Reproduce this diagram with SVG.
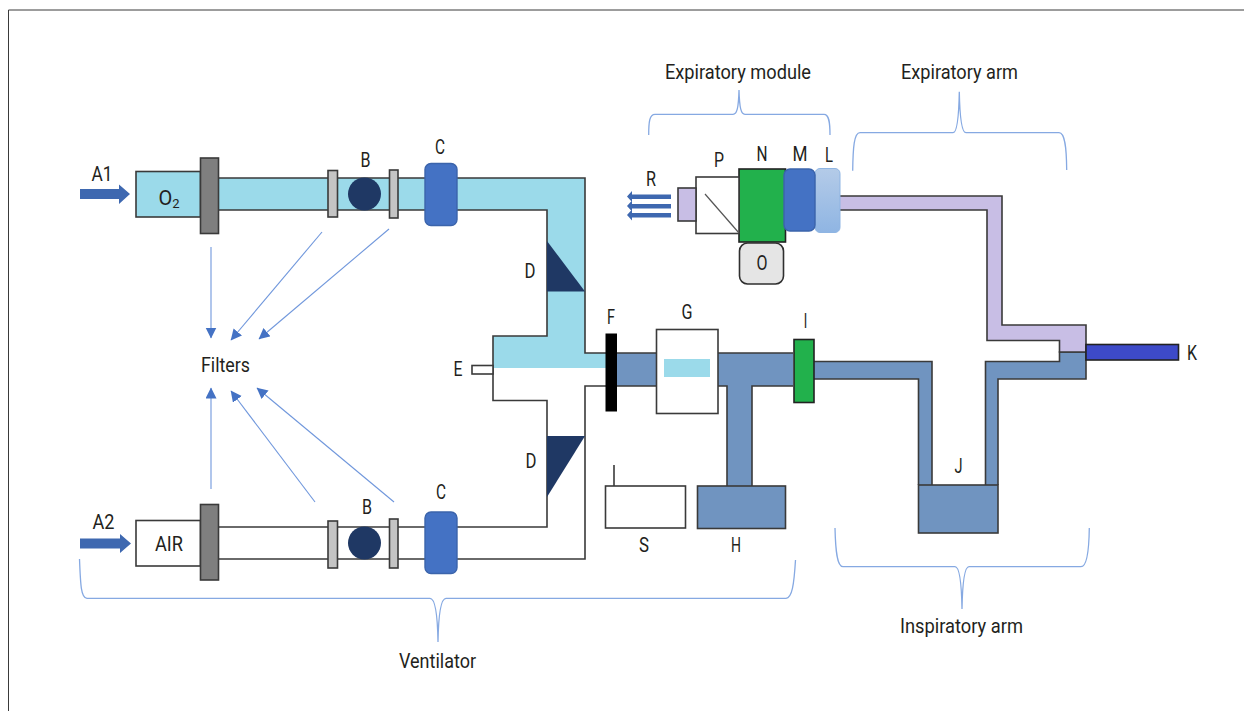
<svg xmlns="http://www.w3.org/2000/svg" width="1244" height="711" viewBox="0 0 1244 711">
<style>
text{font-family:"Roboto","Liberation Sans",sans-serif;font-size:20px;fill:#231f20;text-anchor:middle}
.w{font-size:20.500px}
.l{fill:none;stroke:#3a3a3a;stroke-width:1.600}
.b{stroke:#3a3a3a;stroke-width:1.600}
.cy{fill:#9bdaea}.bl{fill:#7094c0}.li{fill:#c8bee5}.wh{fill:#fff}.gr{fill:#7f7f7f}.lg{fill:#c4c4c4}.dk{fill:#1f3864}
.c{fill:#4472c4;stroke:#3b64ab;stroke-width:1.400}
.t{fill:none;stroke:#7097dc;stroke-width:1.100;marker-end:url(#ah)}
.br{fill:none;stroke:#86a9e2;stroke-width:1.300}
.fat{fill:#3e68b0}
</style>
<defs>
<marker id="ah" markerUnits="userSpaceOnUse" markerWidth="12" markerHeight="12" refX="10.500" refY="5.500" orient="auto"><path d="M0 0L11 5.500L0 11Z" fill="#4472c4"/></marker>
<linearGradient id="lg" x1="0" y1="0" x2="0" y2="1"><stop offset="0" stop-color="#b4cbe8"/><stop offset="1" stop-color="#8fb5e3"/></linearGradient>
</defs>
<path d="M1244 10H8.500V711" fill="none" stroke="#3a3a3a" stroke-width="1"/>

<g id="connectors">
<path class="t" d="M211 247V338"/>
<path class="t" d="M322 232L231 340"/>
<path class="t" d="M389 229L259 339"/>
<path class="t" d="M211 489V388"/>
<path class="t" d="M315 502L231 391"/>
<path class="t" d="M394 502L257 388"/>
<path class="br" d="M79.500 559C80.500 585 81 598 87 598.300H430C435 598.300 437.500 612 438 642C438.500 612 441 598.300 446 598.300H786C792 598 794 585 795.500 560"/>
<path class="br" d="M648.700 135C648.700 122 649.500 114.300 655 114.300H733C737 114.300 738.500 108 739 90C739.500 108 741 114.300 745 114.300H824C829 114.300 830 122 830 135"/>
<path class="br" d="M852.700 170.700C853 148 854 132.700 860 132.700H953C957 132.700 958.800 118 959.300 91.700C959.800 118 961.500 132.700 966 132.700H1059C1065 132.700 1066.500 148 1066.700 170"/>
<path class="br" d="M835 528C835.500 550 837 566.700 843 566.700H955C959 566.700 961.500 582 962 609C962.500 582 965 566.700 969 566.700H1081C1087 566.700 1089 550 1089.300 528"/>
</g>

<g id="inspiratory-path">
<path class="cy" d="M218 178H585V353H606V368H493V336H547V210H218Z"/>
<path class="l" d="M218 178H585V353H606M218 210H547V336H493V400.500H547V527H218M218 559H585V386H606"/>
<path class="bl" d="M617 353H793V386H752V486H727V386H617Z"/>
<path class="l" d="M617 353H793M617 386H727V486M752 486V386H793"/>
<path class="bl" d="M814 361.500H932V485H985.500V361.500H1059.500V352H1086V379H998V485H918.500V379H814Z"/>
<path class="l" d="M814 361.500H932V485M985.500 485V361.500H1059.500V352H1086V379H998V485M918.500 485V379H814"/>
</g>
<g id="expiratory-path">
<path class="li" d="M840 196H1002V325H1086V352H1059.500V340.500H987V210H840Z"/>
<path class="l" d="M840 196H1002V325H1086V352H1059.500V340.500H987V210H840"/>
</g>

<g id="A1"><path class="fat" d="M80 189H119V184.500L130 194L119 204V199H80Z"/><text x="102" y="181" textLength="21" lengthAdjust="spacingAndGlyphs">A1</text></g>
<g id="A2"><path class="fat" d="M80 538.500H120V534L131 543.500L120 553V548.500H80Z"/><text x="103.500" y="529" textLength="22" lengthAdjust="spacingAndGlyphs">A2</text></g>
<g id="O2"><rect class="cy b" x="136" y="171.500" width="64.500" height="45.500"/><text x="169" y="205">O<tspan font-size="13" dy="3">2</tspan></text></g>
<g id="AIR"><rect class="wh b" x="136" y="520.500" width="64.500" height="45.500"/><text x="169" y="551" textLength="28" lengthAdjust="spacingAndGlyphs">AIR</text></g>
<g id="flange-1"><rect class="gr b" x="200.500" y="158" width="18" height="75.500"/></g>
<g id="flange-2"><rect class="gr b" x="200.500" y="504.500" width="18" height="75.500"/></g>
<g id="B1"><rect class="lg b" x="328" y="170.500" width="9.500" height="46.500"/><circle class="dk" cx="364.500" cy="194" r="16.500"/><rect class="lg b" x="389.500" y="170" width="8.500" height="48"/><text x="365.500" y="167" textLength="10" lengthAdjust="spacingAndGlyphs">B</text></g>
<g id="B2"><rect class="lg b" x="328" y="521" width="9.500" height="47"/><circle class="dk" cx="364.500" cy="543" r="16.500"/><rect class="lg b" x="389.500" y="519" width="8.500" height="49"/><text x="367" y="514" textLength="10" lengthAdjust="spacingAndGlyphs">B</text></g>
<g id="C1"><rect class="c" x="425" y="163.500" width="32" height="62" rx="6"/><text x="440" y="154" textLength="10" lengthAdjust="spacingAndGlyphs">C</text></g>
<g id="C2"><rect class="c" x="425" y="512" width="32" height="61.500" rx="6"/><text x="441" y="499" textLength="10" lengthAdjust="spacingAndGlyphs">C</text></g>
<g id="D1"><path class="dk" d="M547 241L585 291.500H547Z"/><text x="530" y="278" textLength="11" lengthAdjust="spacingAndGlyphs">D</text></g>
<g id="D2"><path class="dk" d="M547 436H585L547 497Z"/><text x="531" y="468" textLength="11" lengthAdjust="spacingAndGlyphs">D</text></g>
<g id="E"><rect class="wh b" x="472" y="365.500" width="21" height="8.500"/><text x="458" y="376" textLength="9" lengthAdjust="spacingAndGlyphs">E</text></g>
<g id="F"><rect x="605.500" y="333.500" width="11.500" height="78" fill="#000"/><text x="611" y="324" textLength="8" lengthAdjust="spacingAndGlyphs">F</text></g>
<g id="G"><rect class="wh b" x="656.500" y="329.500" width="61.500" height="84"/><rect class="cy" x="664" y="359" width="46" height="18"/><text x="687" y="319" textLength="11" lengthAdjust="spacingAndGlyphs">G</text></g>
<g id="H"><rect class="bl b" x="697.500" y="486" width="88" height="42.500"/><text x="736" y="552" textLength="10" lengthAdjust="spacingAndGlyphs">H</text></g>
<g id="S"><rect class="wh b" x="605.500" y="486" width="80" height="42"/><path class="l" d="M614 465V486"/><text x="644" y="552" textLength="10" lengthAdjust="spacingAndGlyphs">S</text></g>
<g id="I"><rect x="794" y="339.500" width="20" height="63" fill="#22b14c" stroke="#222" stroke-width="1.600"/><text x="805.500" y="328" textLength="3.500" lengthAdjust="spacingAndGlyphs">I</text></g>
<g id="J"><rect class="bl b" x="918.500" y="485" width="79.500" height="48"/><text x="958.500" y="473" textLength="8" lengthAdjust="spacingAndGlyphs">J</text></g>
<g id="K"><rect x="1086" y="344.500" width="92.500" height="15.500" fill="#3d4ac8" stroke="#222" stroke-width="1.600"/><text x="1192" y="360" textLength="10" lengthAdjust="spacingAndGlyphs">K</text></g>
<g id="L"><rect x="815" y="168.500" width="25" height="64" rx="5" fill="url(#lg)" stroke="#8fb5e3" stroke-width="1"/><text x="829" y="162" textLength="8" lengthAdjust="spacingAndGlyphs">L</text></g>
<g id="N"><rect x="739" y="169" width="46.500" height="73" fill="#22b14c" stroke="#222" stroke-width="1.600"/><text x="762" y="161" textLength="11" lengthAdjust="spacingAndGlyphs">N</text></g>
<g id="M"><rect class="c" x="784" y="169" width="31" height="62" rx="6"/><text x="800" y="161" textLength="15" lengthAdjust="spacingAndGlyphs">M</text></g>
<g id="O"><rect x="739.500" y="243" width="44" height="41" rx="8" fill="#e5e5e5" stroke="#2f2f2f" stroke-width="1.600"/><text x="762" y="270" textLength="11" lengthAdjust="spacingAndGlyphs">O</text></g>
<g id="P"><rect class="wh b" x="696" y="177" width="43" height="56.500"/><path d="M705 194L739 233" stroke="#555" stroke-width="1.200"/><text x="719" y="167" textLength="10" lengthAdjust="spacingAndGlyphs">P</text></g>
<g id="P-outlet"><rect class="li b" x="678" y="188" width="18" height="33"/></g>
<g id="R"><path class="fat" d="M671 194.500H632V191L627 196.500L632 202V199H671ZM671 204H632V200.500L627 206L632 211.500V208.500H671ZM671 213H632V209.500L627 215L632 220.500V217.500H671Z"/><text x="651" y="186" textLength="10" lengthAdjust="spacingAndGlyphs">R</text></g>

<g id="labels">
<text class="w" x="738" y="79" textLength="146" lengthAdjust="spacingAndGlyphs">Expiratory module</text>
<text class="w" x="959.500" y="79" textLength="117" lengthAdjust="spacingAndGlyphs">Expiratory arm</text>
<text class="w" x="225.500" y="372" textLength="49" lengthAdjust="spacingAndGlyphs">Filters</text>
<text class="w" x="437.500" y="668" textLength="77" lengthAdjust="spacingAndGlyphs">Ventilator</text>
<text class="w" x="961.500" y="632.500" textLength="123" lengthAdjust="spacingAndGlyphs">Inspiratory arm</text>
</g>
</svg>
